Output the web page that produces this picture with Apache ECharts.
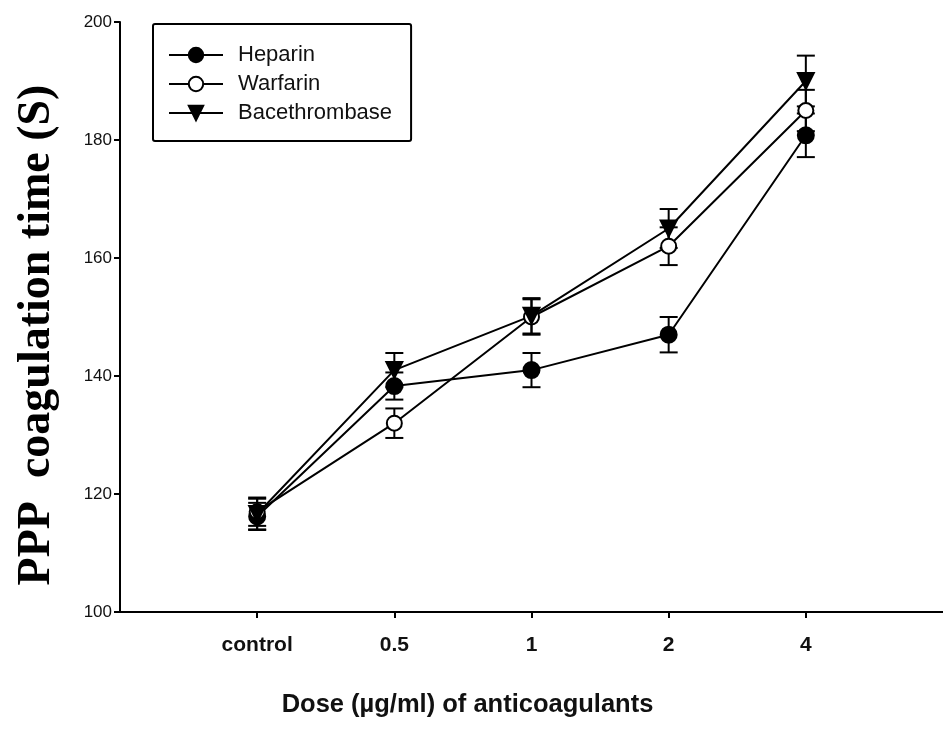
<!DOCTYPE html>
<html>
<head>
<meta charset="utf-8">
<script src="https://cdn.jsdelivr.net/npm/echarts@6/dist/echarts.min.js"></script>
<style>
html,body{margin:0;padding:0;background:#fff;}
#chart{width:943px;height:745px;}
</style>
</head>
<body>
<div id="chart"></div>
<script>
// ---- data ----
var doses = ['control', '0.5', '1', '2', '4'];
var heparin = [116.2, 138.3, 141.0, 147.0, 180.8];
var heparinErr = [2.3, 2.3, 2.9, 3.0, 3.7];
var warfarin = [117.0, 132.0, 150.0, 162.0, 185.0];
var warfarinErr = [2.4, 2.5, 3.0, 3.2, 3.5];
var bacethrombase = [116.6, 141.0, 150.2, 165.0, 190.0];
var bacethrombaseErr = [2.6, 2.9, 3.0, 3.3, 4.3];
var yTicks = [100, 120, 140, 160, 180, 200];

var downTri = 'path://M0,0 L10,0 L5,8.5 Z';

function pts(vals) { return vals.map(function (v, i) { return [i + 1, v]; }); }
function errPts(vals, errs) { return vals.map(function (v, i) { return [i + 1, v - errs[i], v + errs[i]]; }); }

function errSeries(name, vals, errs) {
  return {
    type: 'custom',
    name: name + ' error',
    silent: true,
    z: 1,
    data: errPts(vals, errs),
    encode: { x: 0, y: [1, 2] },
    renderItem: function (params, api) {
      var x = api.value(0);
      var lo = api.coord([x, api.value(1)]);
      var hi = api.coord([x, api.value(2)]);
      var hw = 9;
      var st = { stroke: '#000', lineWidth: 2 };
      return {
        type: 'group',
        children: [
          { type: 'line', shape: { x1: lo[0], y1: lo[1], x2: hi[0], y2: hi[1] }, style: st },
          { type: 'line', shape: { x1: lo[0] - hw, y1: lo[1], x2: lo[0] + hw, y2: lo[1] }, style: st },
          { type: 'line', shape: { x1: hi[0] - hw, y1: hi[1], x2: hi[0] + hw, y2: hi[1] }, style: st }
        ]
      };
    }
  };
}

function lineSeries(name, vals, symbol, size) {
  return {
    type: 'line',
    name: name,
    data: pts(vals),
    symbol: symbol,
    symbolSize: size,
    z: 3,
    color: '#000',
    lineStyle: { color: '#000', width: 2 },
    itemStyle: { color: '#000', borderColor: '#000', borderWidth: 2 }
  };
}

var chart = echarts.init(document.getElementById('chart'), null, { renderer: 'canvas' });
chart.setOption({
  animation: false,
  backgroundColor: '#fff',
  grid: { left: 120, top: 22, width: 832, height: 590, containLabel: false },
  legend: {
    orient: 'vertical',
    left: 153,
    top: 24,
    padding: [20, 19, 17, 15],
    itemGap: 7,
    itemWidth: 54,
    itemHeight: 18,
    borderColor: '#000',
    borderWidth: 2,
    borderRadius: 2,
    data: ['Heparin', 'Warfarin', 'Bacethrombase'],
    textStyle: { fontFamily: 'Liberation Sans, Arial, sans-serif', fontSize: 22, color: '#111', padding: [0, 0, 0, 10] }
  },
  xAxis: {
    type: 'value',
    min: 0,
    max: doses.length + 1,
    interval: 1,
    splitLine: { show: false },
    axisLine: { onZero: false, lineStyle: { color: '#000', width: 2 } },
    axisTick: { show: true, length: 6, lineStyle: { color: '#000', width: 2 }, customValues: doses.map(function (d, i) { return i + 1; }) },
    axisLabel: {
      customValues: doses.map(function (d, i) { return i + 1; }),
      formatter: function (v) { return doses[v - 1] || ''; },
      margin: 23,
      fontFamily: 'Liberation Sans, Arial, sans-serif',
      fontWeight: 'bold',
      fontSize: 21,
      color: '#111'
    },
    name: 'Dose (µg/ml) of anticoagulants',
    nameLocation: 'middle',
    nameGap: 80,
    nameTextStyle: {
      fontFamily: 'Liberation Sans, Arial, sans-serif',
      fontWeight: 'bold',
      fontSize: 25.5,
      color: '#111',
      padding: [0, 128, 0, 0]
    }
  },
  yAxis: {
    type: 'value',
    min: yTicks[0],
    max: yTicks[yTicks.length - 1],
    interval: 20,
    splitLine: { show: false },
    axisLine: { show: true, lineStyle: { color: '#000', width: 2 } },
    axisTick: { show: true, length: 6, lineStyle: { color: '#000', width: 2 } },
    axisLabel: {
      margin: 8,
      fontFamily: 'Liberation Sans, Arial, sans-serif',
      fontSize: 17,
      color: '#111'
    },
    name: 'PPP  coagulation time (S)',
    nameLocation: 'middle',
    nameGap: 60,
    nameTextStyle: {
      fontFamily: 'Liberation Serif, Times New Roman, serif',
      fontWeight: 'bold',
      fontSize: 46,
      color: '#000',
      padding: [0, 36, 0, 0]
    }
  },
  series: [
    errSeries('Heparin', heparin, heparinErr),
    errSeries('Warfarin', warfarin, warfarinErr),
    errSeries('Bacethrombase', bacethrombase, bacethrombaseErr),
    lineSeries('Heparin', heparin, 'circle', 16),
    lineSeries('Warfarin', warfarin, 'emptyCircle', 15),
    lineSeries('Bacethrombase', bacethrombase, downTri, 16)
  ]
});
</script>
</body>
</html>
